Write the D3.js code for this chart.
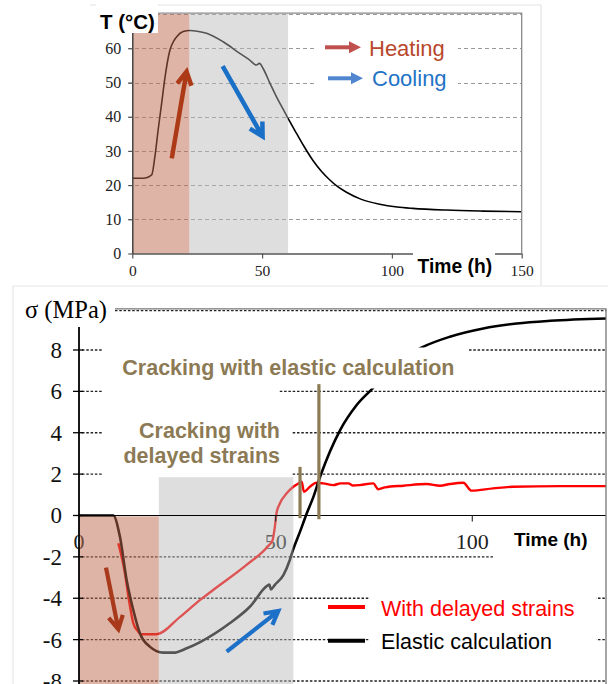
<!DOCTYPE html>
<html>
<head>
<meta charset="utf-8">
<script src="https://cdn.jsdelivr.net/npm/d3@7"></script>
<style>
  body { margin: 0; background: #fff; }
  svg { display: block; }
</style>
</head>
<body>
<svg id="fig" width="608" height="684"></svg>
<script>
// ---------- Temperature history (upper panel) ----------
const tempTime = [0, 4, 6, 7.5, 8.7, 10, 11.3, 12.5, 14.5, 16, 17.1, 19.6, 22.2, 25, 28.6, 35, 41.4, 45, 47.8, 49, 50.4, 53, 55.5, 58.1, 60, 63.2, 66, 69.6, 73, 75.8, 79, 82.5, 88, 95.3, 102, 108, 121, 135, 150];
const tempValue = [22, 22, 22.3, 23, 28.3, 36.4, 43.9, 51, 59.5, 62.2, 63.4, 64.9, 65.2, 65, 64.4, 61.9, 58.5, 56.7, 55.1, 55.6, 54.1, 49.8, 45.9, 42.2, 39.5, 35.2, 31.5, 27.2, 23.9, 21.7, 19.6, 17.9, 15.9, 14.4, 13.6, 13.2, 12.7, 12.4, 12.2];
const tempXTicks = [0, 50, 100, 150];
const tempYTicks = [0, 10, 20, 30, 40, 50, 60];
const tempGrid = [10, 20, 30, 40, 50, 60, 70];
const tempHeating = [0, 22];
const tempCooling = [22, 60];

// ---------- Stress history (lower panel) ----------
const elasticTime = [0, 8.7, 10.4, 12.1, 13.8, 15.5, 18, 21.4, 24, 27.4, 30.8, 38.4, 43.5, 47.9, 48.4, 48.8, 49.8, 52, 53.6, 54.4, 56.2, 57.9, 59.6, 61.3, 66.4, 70.6, 75.3, 80, 87.5, 94.3, 102.8, 111.3, 119.8, 134];
const elasticStress = [0, 0, -1.02, -3.1, -4.57, -5.7, -6.34, -6.63, -6.63, -6.42, -6.12, -5.2, -4.4, -3.39, -3.34, -3.57, -3.35, -2.87, -2.15, -1.67, -0.78, 0.1, 0.9, 1.87, 4.13, 5.34, 6.26, 7.25, 8.15, 8.64, 9.04, 9.28, 9.41, 9.52];
const delayedTime = [10, 11.5, 12.8, 13.8, 15, 15.8, 19.7, 25.7, 30.8, 34.1, 42.6, 48.1, 49.2, 49.8, 50.2, 51.1, 52.8, 54.5, 55.8, 56.6, 57.2, 58.7, 60.4, 62.1, 64.7, 66.5, 68.5, 69.7, 71.4, 74.8, 76.1, 77.8, 82.5, 88.4, 91.8, 94.3, 97.7, 99.8, 105.3, 110.4, 122.3, 134];
const delayedStress = [-1.34, -2.6, -4.2, -5.2, -5.6, -5.74, -5.74, -4.9, -4.08, -3.6, -2.39, -1.47, -1.2, -0.54, 0.1, 0.59, 1.07, 1.39, 1.55, 1.63, 1.15, 1.39, 1.58, 1.55, 1.47, 1.55, 1.55, 1.45, 1.47, 1.55, 1.27, 1.36, 1.44, 1.52, 1.44, 1.52, 1.58, 1.2, 1.31, 1.39, 1.42, 1.42];
const stressXTicks = [0, 50, 100];
const stressYTicks = [-8, -6, -4, -2, 0, 2, 4, 6, 8];
const stressGrid = [-8, -6, -4, -2, 2, 4, 6, 8, 10];
const stressHeating = [0, 20.3];
const stressCooling = [20.3, 54.5];
const coolingBandTop = 1.85;
const crackDelayed = { t: 56.2, from: -0.13, to: 2.35 };
const crackElastic = { t: 61, from: -0.18, to: 6.35 };
const seriesNames = ["With delayed strains", "Elastic calculation"];

const svg = d3.select("#fig");
const SANS = "'Liberation Sans', Arial, sans-serif";
const SERIF = "'Liberation Serif', 'Times New Roman', serif";
const HEAT_FILL = "rgb(190,105,80)";
const COOL_FILL = "rgb(182,182,182)";
const OLIVE = "#8c7a55";

// arrow made of a shaft and an open chevron head
function chevronArrow(g, x1, y1, x2, y2, color, width, head) {
  const a = Math.atan2(y2 - y1, x2 - x1);
  const spread = 0.5;
  const hx1 = x2 - head * Math.cos(a - spread), hy1 = y2 - head * Math.sin(a - spread);
  const hx2 = x2 - head * Math.cos(a + spread), hy2 = y2 - head * Math.sin(a + spread);
  g.append("path")
    .attr("d", `M${x1},${y1}L${x2},${y2}M${hx1},${hy1}L${x2},${y2}L${hx2},${hy2}`)
    .attr("fill", "none").attr("stroke", color).attr("stroke-width", width)
    .attr("stroke-linejoin", "miter").attr("stroke-linecap", "butt");
}
// arrow with a filled triangular head (legend keys)
function solidArrow(g, x1, x2, y, color) {
  g.append("line").attr("x1", x1).attr("x2", x2 - 9).attr("y1", y).attr("y2", y)
    .attr("stroke", color).attr("stroke-width", 4);
  g.append("path").attr("d", `M${x2},${y}L${x2 - 12},${y - 6}L${x2 - 12},${y + 6}Z`).attr("fill", color);
}

// ================= Upper panel: temperature =================
const xT = d3.scaleLinear([0, 150], [132.3, 521.7]);
const yT = d3.scaleLinear([0, 70], [253.5, 14.1]);
const upper = svg.append("g");

// panel outline
upper.append("path").attr("d", "M90,5H541V285").attr("fill", "none").attr("stroke", "#e4e4e4").attr("stroke-width", 1.2);

// horizontal grid
upper.selectAll(".tg").data(tempGrid).join("line")
  .attr("x1", 128).attr("x2", xT(150))
  .attr("y1", d => Math.round(yT(d)) + 0.5).attr("y2", d => Math.round(yT(d)) + 0.5)
  .attr("stroke", "#9a9a9a").attr("stroke-width", 1).attr("stroke-dasharray", "4,3");

// temperature curve
const tempLine = d3.line().x(d => xT(d[0])).y(d => yT(d[1])).curve(d3.curveMonotoneX);
upper.append("path").datum(d3.zip(tempTime, tempValue)).attr("d", tempLine)
  .attr("fill", "none").attr("stroke", "#000").attr("stroke-width", 1.6);

// phase bands laid over the curve
upper.append("rect").attr("x", xT(tempHeating[0])).attr("width", xT(tempHeating[1]) - xT(tempHeating[0]))
  .attr("y", yT(70)).attr("height", yT(0) - yT(70)).attr("fill", HEAT_FILL).attr("fill-opacity", 0.5);
upper.append("rect").attr("x", xT(tempCooling[0])).attr("width", xT(tempCooling[1]) - xT(tempCooling[0]))
  .attr("y", yT(70)).attr("height", yT(0) - yT(70)).attr("fill", COOL_FILL).attr("fill-opacity", 0.46);

// axes
const txAxis = upper.append("g").attr("transform", `translate(0,${yT(0)})`)
  .call(d3.axisBottom(xT).tickValues(tempXTicks).tickSize(5).tickSizeOuter(0).tickPadding(6));
txAxis.select(".domain").attr("stroke", "#555").attr("stroke-width", 1.5);
txAxis.selectAll(".tick line").attr("stroke", "#555").attr("stroke-width", 1.2);
txAxis.selectAll(".tick text").attr("font-family", SERIF).attr("font-size", 15.5).attr("fill", "#222");

const tyAxis = upper.append("g").attr("transform", `translate(${xT(0)},0)`)
  .call(d3.axisLeft(yT).tickValues(tempYTicks).tickSize(4).tickSizeOuter(0).tickPadding(7));
tyAxis.select(".domain").attr("stroke", "#444").attr("stroke-width", 1.5);
tyAxis.selectAll(".tick line").attr("stroke", "#555").attr("stroke-width", 1.2);
tyAxis.selectAll(".tick text").attr("font-family", SERIF).attr("font-size", 16).attr("fill", "#222");

// plot frame (top and right)
upper.append("path").attr("d", `M158,13.2H${xT(150)}V${yT(0)}`).attr("fill", "none").attr("stroke", "#8a8a8a").attr("stroke-width", 1.3);

// label backgrounds
upper.append("rect").attr("x", 96).attr("y", 3).attr("width", 62).attr("height", 30).attr("fill", "#fff");
upper.append("rect").attr("x", 413).attr("y", 249).attr("width", 82).attr("height", 34).attr("fill", "#fff");
upper.append("rect").attr("x", 317).attr("y", 31).attr("width", 141).attr("height", 63).attr("fill", "#fff");

// axis titles
upper.append("text").attr("x", 100).attr("y", 28.5).text("T (°C)")
  .attr("font-family", SANS).attr("font-weight", "bold").attr("font-size", 20.5).attr("fill", "#000");
upper.append("text").attr("x", 417.5).attr("y", 272.5).text("Time (h)")
  .attr("font-family", SANS).attr("font-weight", "bold").attr("font-size", 19.3).attr("fill", "#000");

// phase arrows
chevronArrow(upper, xT(15.2), yT(27.8), xT(20.9), yT(53.2), "#ad3a16", 4.5, 15);
chevronArrow(upper, xT(34.8), yT(54.8), xT(50.2), yT(34.2), "#1a70c6", 4.5, 15);

// legend
solidArrow(upper, 325, 361, 47.3, "#c0504d");
solidArrow(upper, 328, 363, 78.3, "#4f86cf");
upper.append("text").attr("x", 369).attr("y", 55.5).text("Heating")
  .attr("font-family", SANS).attr("font-size", 22).attr("fill", "#b8472b");
upper.append("text").attr("x", 372).attr("y", 86).text("Cooling")
  .attr("font-family", SANS).attr("font-size", 22).attr("fill", "#1f73c6");

// ================= Lower panel: stress =================
const xS = d3.scaleLinear([0, 100], [79, 472.3]);
const yS = d3.scaleLinear([-8, 10], [681, 308.6]);
const lower = svg.append("g");
const xRight = 606;

// panel outline
lower.append("path").attr("d", "M13,684V286H608").attr("fill", "none").attr("stroke", "#e6e6e6").attr("stroke-width", 1.2);

// dotted grid
lower.selectAll(".sg").data(stressGrid).join("line")
  .attr("x1", d => d === 10 ? 115 : 82).attr("x2", xRight)
  .attr("y1", d => yS(d) + (d === 10 ? 2 : 0)).attr("y2", d => yS(d) + (d === 10 ? 2 : 0))
  .attr("stroke", "#222").attr("stroke-width", 1.3).attr("stroke-dasharray", "2.5,1.8");

// time tick labels (the band dims the one inside it)
lower.selectAll(".sxt").data(stressXTicks).join("text")
  .attr("x", d => xS(d)).attr("y", 549).attr("text-anchor", "middle").text(d => d)
  .attr("font-family", SERIF).attr("font-size", 22).attr("fill", "#222");

// stress curves
const stressLine = d3.line().x(d => xS(d[0])).y(d => yS(d[1])).curve(d3.curveMonotoneX);
lower.append("path").datum(d3.zip(delayedTime, delayedStress)).attr("d", stressLine)
  .attr("fill", "none").attr("stroke", "#ff0000").attr("stroke-width", 2.4).attr("stroke-linejoin", "round");
lower.append("path").datum(d3.zip(elasticTime, elasticStress)).attr("d", stressLine)
  .attr("fill", "none").attr("stroke", "#000").attr("stroke-width", 2.6).attr("stroke-linejoin", "round");

// white backgrounds of the annotations and legend
lower.append("rect").attr("x", 102).attr("y", 347.5).attr("width", 366).attr("height", 41).attr("fill", "#fff");
lower.append("rect").attr("x", 102).attr("y", 388.5).attr("width", 176).attr("height", 8).attr("fill", "#fff");
lower.append("rect").attr("x", 103).attr("y", 396).attr("width", 189).attr("height", 82).attr("fill", "#fff");
lower.append("rect").attr("x", 369).attr("y", 590).attr("width", 227).attr("height", 70).attr("fill", "#fff");
lower.append("rect").attr("x", 493).attr("y", 525).attr("width", 113).attr("height", 40).attr("fill", "#fff");

// phase bands laid over the curves
lower.append("rect").attr("x", xS(stressHeating[0])).attr("width", xS(stressHeating[1]) - xS(stressHeating[0]))
  .attr("y", yS(0) + 0.8).attr("height", 684 - yS(0)).attr("fill", HEAT_FILL).attr("fill-opacity", 0.5);
lower.append("rect").attr("x", xS(stressCooling[0])).attr("width", xS(stressCooling[1]) - xS(stressCooling[0]))
  .attr("y", yS(coolingBandTop)).attr("height", 684 - yS(coolingBandTop)).attr("fill", COOL_FILL).attr("fill-opacity", 0.46);

// axes
lower.append("line").attr("x1", xS(0)).attr("x2", xRight).attr("y1", yS(0)).attr("y2", yS(0))
  .attr("stroke", "#000").attr("stroke-width", 1.2);
lower.selectAll(".sxtick").data(stressXTicks.filter(d => d > 0)).join("line")
  .attr("x1", d => xS(d)).attr("x2", d => xS(d)).attr("y1", yS(0)).attr("y2", yS(0) + 6)
  .attr("stroke", "#333").attr("stroke-width", 1.2);
lower.append("line").attr("x1", xS(0)).attr("x2", xS(0)).attr("y1", 327).attr("y2", 684)
  .attr("stroke", "#000").attr("stroke-width", 1.8);
lower.selectAll(".sytick").data(stressYTicks).join("line")
  .attr("x1", 73).attr("x2", 83).attr("y1", d => yS(d)).attr("y2", d => yS(d))
  .attr("stroke", "#000").attr("stroke-width", 1.3);
lower.selectAll(".syt").data(stressYTicks).join("text")
  .attr("x", 62).attr("y", d => yS(d) + 8).attr("text-anchor", "end").text(d => d)
  .attr("font-family", SERIF).attr("font-size", 23).attr("fill", "#111");

// plot frame (top and right)
lower.append("path").attr("d", `M115,${yS(10) + 0.3}H${xRight}V684`).attr("fill", "none").attr("stroke", "#777").attr("stroke-width", 1.3);

// cracking markers
[crackDelayed, crackElastic].forEach(c => {
  lower.append("line").attr("x1", xS(c.t)).attr("x2", xS(c.t)).attr("y1", yS(c.to)).attr("y2", yS(c.from))
    .attr("stroke", OLIVE).attr("stroke-width", 3.2);
});

// phase arrows
chevronArrow(lower, xS(6.86), yS(-2.52), xS(10), yS(-5.5), "#a8391b", 4.2, 15);
chevronArrow(lower, xS(37.55), yS(-6.58), xS(50.67), yS(-4.62), "#1c70c8", 4.2, 15);

// axis titles
lower.append("text").attr("x", 25).attr("y", 318).text("σ (MPa)")
  .attr("font-family", SERIF).attr("font-size", 24.5).attr("fill", "#000");
lower.append("text").attr("x", 514).attr("y", 546).text("Time (h)")
  .attr("font-family", SANS).attr("font-weight", "bold").attr("font-size", 19).attr("fill", "#000");

// annotations
lower.append("text").attr("x", 122.3).attr("y", 375).text("Cracking with elastic calculation")
  .attr("font-family", SANS).attr("font-weight", "bold").attr("font-size", 21.5).attr("fill", OLIVE);
lower.append("text").attr("x", 280).attr("y", 438).attr("text-anchor", "end").text("Cracking with")
  .attr("font-family", SANS).attr("font-weight", "bold").attr("font-size", 21.5).attr("fill", OLIVE);
lower.append("text").attr("x", 280).attr("y", 463).attr("text-anchor", "end").text("delayed strains")
  .attr("font-family", SANS).attr("font-weight", "bold").attr("font-size", 21.5).attr("fill", OLIVE);

// legend
const legendColors = ["#ff0000", "#000"];
const legendY = [607, 640.7];
seriesNames.forEach((name, i) => {
  lower.append("line").attr("x1", 328).attr("x2", 365).attr("y1", legendY[i]).attr("y2", legendY[i])
    .attr("stroke", legendColors[i]).attr("stroke-width", 4);
  lower.append("text").attr("x", 381).attr("y", legendY[i] + 8.5).text(name)
    .attr("font-family", SANS).attr("font-size", 21.5).attr("fill", legendColors[i]);
});
</script>
</body>
</html>
